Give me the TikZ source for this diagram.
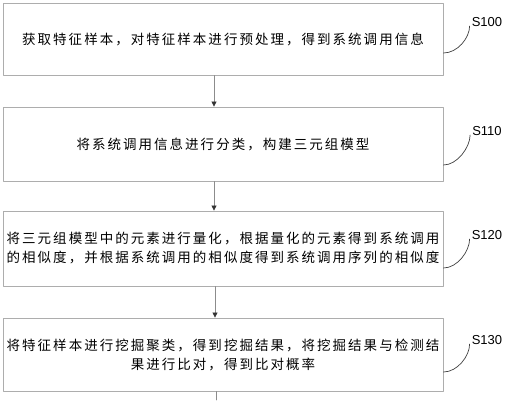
\documentclass[tikz,border=0pt]{standalone}
\usepackage{fontspec}
\usepackage{tikz}
\usetikzlibrary{arrows.meta}
\setmainfont{Liberation Sans}
\newfontfamily\cjk[LetterSpace=15]{Noto Sans CJK SC}
\definecolor{boxgray}{rgb}{0.68,0.68,0.68}
\definecolor{linegray}{rgb}{0.55,0.55,0.55}
\tikzset{
  stepbox/.style={draw=boxgray,line width=0.9pt,minimum width=440pt,text width=440pt,
    inner sep=0pt,align=center,font=\cjk\fontsize{13.5}{19}\selectfont},
  flow/.style={draw=linegray,line width=0.8pt,-{Triangle[length=5pt,width=5pt,color=black!80]}},
  tag/.style={font=\fontsize{13}{15}\selectfont,inner sep=0pt},
  lead/.style={draw=black!75,line width=0.7pt}
}
\begin{document}
\begin{tikzpicture}[line cap=round,line join=round,x=1pt,y=-1pt]
\useasboundingbox (0,0) rectangle (505,400);
% the four steps
\node[stepbox,minimum height=72pt] (s100) at (223,39) {获取特征样本，对特征样本进行预处理，得到系统调用信息};
\node[stepbox,minimum height=74pt] (s110) at (223,144) {将系统调用信息进行分类，构建三元组模型};
\node[stepbox,minimum height=75pt] (s120) at (223,248.5) {将三元组模型中的元素进行量化，根据量化的元素得到系统调用\\的相似度，并根据系统调用的相似度得到系统调用序列的相似度};
\node[stepbox,minimum height=73pt] (s130) at (223,354.5) {将特征样本进行挖掘聚类，得到挖掘结果，将挖掘结果与检测结\\果进行比对，得到比对概率};
% connectors
\draw[flow] ([xshift=-9pt]s100.south) -- ([xshift=-9pt]s110.north);
\draw[flow] ([xshift=-9pt]s110.south) -- ([xshift=-9pt]s120.north);
\draw[flow] ([xshift=-8pt]s120.south) -- ([xshift=-8pt]s130.north);
\coordinate (tail) at (216,400);
\draw[draw=linegray,line width=0.8pt] ([xshift=-7pt]s130.south) -- (tail);
% step labels
\node[tag] (l100) at (487,22) {S100};
\node[tag] (l110) at (487,131) {S110};
\node[tag] (l120) at (487,235) {S120};
\node[tag] (l130) at (487,340) {S130};
\draw[lead] ([yshift=-14pt]s100.east) .. controls +(14,0) and +(0,12) .. ([xshift=-2pt,yshift=-4pt]l100.west);
\draw[lead] ([yshift=-21pt]s110.east) .. controls +(14,0) and +(0,12) .. ([xshift=-2pt,yshift=-4pt]l110.west);
\draw[lead] ([yshift=-19.5pt]s120.east) .. controls +(14,0) and +(0,12) .. ([xshift=-2pt,yshift=-4pt]l120.west);
\draw[lead] ([yshift=-17.5pt]s130.east) .. controls +(14,0) and +(0,12) .. ([xshift=-2pt,yshift=-4pt]l130.west);
\end{tikzpicture}
\end{document}
